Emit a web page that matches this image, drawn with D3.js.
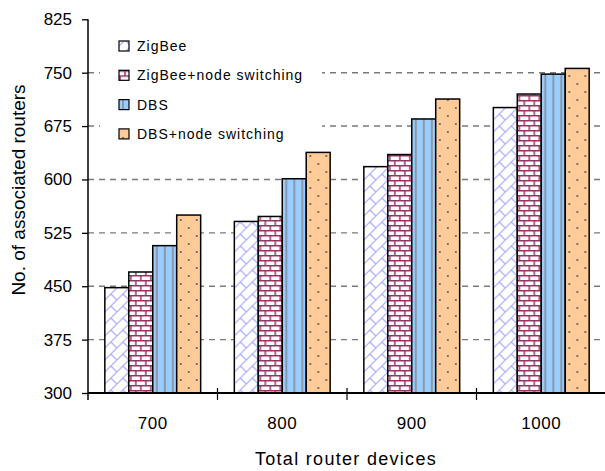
<!DOCTYPE html>
<html><head><meta charset="utf-8">
<script src="https://cdn.jsdelivr.net/npm/d3@7"></script>
<style>
html,body{margin:0;padding:0;background:#fff;}
svg{display:block;}
text{font-family:"Liberation Sans",Arial,sans-serif;fill:#000;}
</style></head>
<body>
<svg id="chart" width="605" height="471"></svg>
<script>
const categories = ["700", "800", "900", "1000"];
const seriesNames = ["ZigBee", "ZigBee+node switching", "DBS", "DBS+node switching"];
const zigbee = [448, 541, 618, 701];
const zigbeeNS = [470, 548, 635, 720];
const dbs = [507, 601, 685, 748];
const dbsNS = [550, 638, 713, 756];
const yTicks = [300, 375, 450, 525, 600, 675, 750, 825];
const xTitle = "Total router devices";
const yTitle = "No. of associated routers";

(function () {
const seriesValues = [zigbee, zigbeeNS, dbs, dbsNS];
const patternIds = ["pz", "pb", "pd", "po"];

const svg = d3.select("#chart");
const pLeft = 88, pRight = 606, pTop = 19.3, pBottom = 393;

const defs = svg.append("defs");
// diagonal brick (ZigBee)
const pz = defs.append("pattern").attr("id","pz").attr("patternUnits","userSpaceOnUse").attr("width",12).attr("height",12);
pz.append("rect").attr("width",12).attr("height",12).attr("fill","#fff");
pz.append("path").attr("d","M-1,13 L13,-1 M6,6 L12,12 M-1,1 L1,-1 M11,13 L13,11").attr("stroke","#a8a8ff").attr("stroke-width",1.2).attr("fill","none");
// horizontal brick
const pb = defs.append("pattern").attr("id","pb").attr("patternUnits","userSpaceOnUse").attr("width",10).attr("height",10);
pb.append("rect").attr("width",10).attr("height",10).attr("fill","#fff");
pb.append("path").attr("d","M0,0.75 H10 M0,5.75 H10 M1,0.75 V5.75 M6,5.75 V10.75").attr("stroke","#993366").attr("stroke-width",1.5).attr("fill","none");
// DBS vertical lines
const pd = defs.append("pattern").attr("id","pd").attr("patternUnits","userSpaceOnUse").attr("width",8).attr("height",8);
pd.append("rect").attr("width",8).attr("height",8).attr("fill","#99ccff");
pd.append("rect").attr("x",3).attr("width",2).attr("height",8).attr("fill","#8c98a8");
// dots
const po = defs.append("pattern").attr("id","po").attr("patternUnits","userSpaceOnUse").attr("width",16).attr("height",16);
po.append("rect").attr("width",16).attr("height",16).attr("fill","#ffcc99");
po.append("circle").attr("cx",4).attr("cy",4).attr("r",1).attr("fill","#555");
po.append("circle").attr("cx",12).attr("cy",12).attr("r",1).attr("fill","#555");

const x0 = d3.scaleBand().domain(categories).range([pLeft, pRight]).paddingInner(0.26).paddingOuter(0.13);
const x1 = d3.scaleBand().domain(seriesNames).range([0, x0.bandwidth()]);
const y = d3.scaleLinear().domain([300, 825]).range([pBottom, pTop]);

// gridlines
svg.append("g").selectAll("line").data(yTicks.filter(t => t > 300 && t < 825)).join("line")
  .attr("x1", pLeft).attr("x2", pRight).attr("y1", d => y(d)).attr("y2", d => y(d))
  .attr("stroke", "#7a7a7a").attr("stroke-width", 1.4).attr("stroke-dasharray", "6,5");

// legend background
svg.append("rect").attr("x", 100).attr("y", 26).attr("width", 222).attr("height", 124).attr("fill", "#fff");

// bars
const groups = svg.append("g").selectAll("g").data(categories).join("g")
  .attr("transform", d => `translate(${x0(d)},0)`);
groups.selectAll("rect").data((c, ci) => seriesNames.map((s, si) => ({s, si, v: seriesValues[si][ci]}))).join("rect")
  .attr("x", d => x1(d.s)).attr("width", x1.bandwidth())
  .attr("y", d => y(d.v)).attr("height", d => y(300) - y(d.v))
  .attr("fill", d => `url(#${patternIds[d.si]})`)
  .attr("stroke", "#000").attr("stroke-width", 1.5);

// y axis
const yAxis = svg.append("g").attr("transform", `translate(${pLeft},0)`)
  .call(d3.axisLeft(y).tickValues(yTicks).tickSize(6).tickPadding(10).tickFormat(d3.format("d")));
yAxis.select(".domain").remove();
yAxis.append("line").attr("x1",0).attr("x2",0).attr("y1",pTop).attr("y2",400).attr("stroke","#000").attr("stroke-width",1.5);
yAxis.selectAll(".tick line").attr("stroke","#000").attr("stroke-width",1.3);
yAxis.selectAll(".tick text").attr("font-size", 17).attr("fill","#000");

// x axis
const xg = svg.append("g");
xg.append("line").attr("x1", pLeft).attr("x2", 605).attr("y1", pBottom).attr("y2", pBottom).attr("stroke","#000").attr("stroke-width",2);
const sepTicks = categories.slice(1).map(c => x0(c) - x0.step()*x0.paddingInner()/2);
xg.selectAll("line.sep").data(sepTicks).join("line").attr("class","sep")
  .attr("x1", d => d).attr("x2", d => d).attr("y1", pBottom - 5).attr("y2", pBottom + 7)
  .attr("stroke","#000").attr("stroke-width",1.2);
xg.selectAll("text").data(categories).join("text")
  .attr("x", d => x0(d) + x0.bandwidth()/2).attr("y", 429)
  .attr("text-anchor","middle").attr("font-size", 17).attr("letter-spacing", 0.5).text(d => d);

// titles
svg.append("text").attr("x", 346).attr("y", 465).attr("text-anchor","middle")
  .attr("font-size", 18).attr("letter-spacing", 1.3).text(xTitle);
svg.append("text").attr("transform", "translate(25,190) rotate(-90)").attr("text-anchor","middle")
  .attr("font-size", 19).text(yTitle);

// legend
const leg = svg.append("g").selectAll("g").data(seriesNames).join("g")
  .attr("transform", (d, i) => `translate(119,${46 + i*29.3})`);
leg.append("rect").attr("x", 0).attr("y", -5).attr("width", 10).attr("height", 10)
  .attr("fill", (d, i) => `url(#${patternIds[i]})`).attr("stroke", "#000").attr("stroke-width", 1.2);
leg.append("text").attr("x", 18).attr("y", 5).attr("font-size", 14).attr("letter-spacing", 1)
  .text(d => d);
})();
</script>
</body></html>
